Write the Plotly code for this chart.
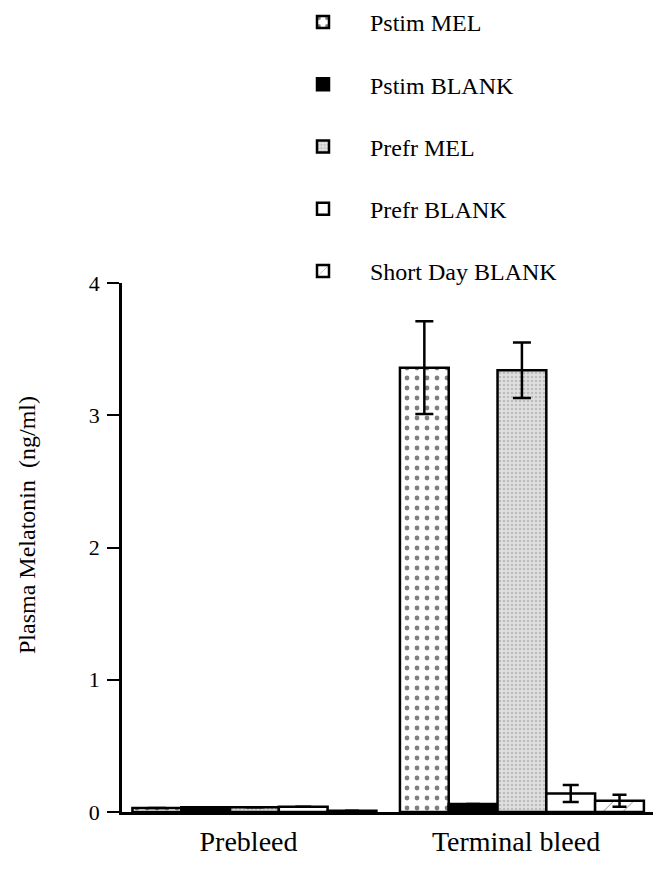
import plotly.graph_objects as go

categories = ["Prebleed", "Terminal bleed"]
x_pos = [0, 1]
series_names = ["Pstim MEL", "Pstim BLANK", "Prefr MEL", "Prefr BLANK", "Short Day BLANK"]
pstim_mel = [0.03, 3.36]
pstim_blank = [0.035, 0.06]
prefr_mel = [0.035, 3.34]
prefr_blank = [0.04, 0.14]
short_day_blank = [0.01, 0.085]
pstim_mel_err = [None, 0.35]
pstim_blank_err = [None, None]
prefr_mel_err = [None, 0.21]
prefr_blank_err = [None, 0.065]
short_day_blank_err = [None, 0.045]
y_ticks = [0, 1, 2, 3, 4]
y_title = "Plasma Melatonin  (ng/ml)"

values = [pstim_mel, pstim_blank, prefr_mel, prefr_blank, short_day_blank]
errors = [pstim_mel_err, pstim_blank_err, prefr_mel_err, prefr_blank_err, short_day_blank_err]
styles = [
    dict(color="white", pattern=dict(shape=".", fgcolor="black", bgcolor="white", size=10, solidity=0.18)),
    dict(color="black"),
    dict(color="#cdcdcd", pattern=dict(shape=".", fgcolor="#9a9a9a", bgcolor="#e0e0e0", size=4, solidity=0.35)),
    dict(color="white"),
    dict(color="white", pattern=dict(shape="/", fgcolor="black", bgcolor="white", size=14, solidity=0.06)),
]
cap_widths = [9, 7, 9, 8, 7]

W, H = 661, 878
ML, MR, MT, MB = 122, 8, 0, 66
PW, PH = W - ML - MR, H - MT - MB
AX_TOP = 283  # pixel row of the y-axis top
FONT = "Liberation Serif"

fig = go.Figure()
for i, name in enumerate(series_names):
    fig.add_trace(go.Bar(
        x=x_pos, y=values[i], name=name, legendgroup=name,
        marker=dict(line=dict(color="black", width=2.5), **styles[i]),
        error_y=dict(type="data", array=errors[i], visible=True, color="black",
                     thickness=2.5, width=cap_widths[i]),
    ))

fig.update_layout(
    width=W, height=H,
    paper_bgcolor="white", plot_bgcolor="white",
    margin=dict(l=ML, r=MR, t=MT, b=MB),
    barmode="group", bargap=0.088, bargroupgap=0,
    font=dict(family=FONT, color="black", size=22),
    legend=dict(x=(276 - ML) / PW, y=1, xanchor="left", yanchor="top",
                font=dict(family=FONT, size=24), tracegroupgap=28,
                itemwidth=84, bgcolor="rgba(0,0,0,0)", traceorder="grouped"),
    showlegend=True,
    annotations=[dict(text=y_title, xref="paper", yref="paper",
                      x=(27 - ML) / PW, y=(H - MB - 525) / PH,
                      xanchor="center", yanchor="middle",
                      textangle=-90, showarrow=False,
                      font=dict(family=FONT, size=24, color="black"))],
)
fig.update_xaxes(
    tickmode="array", tickvals=[p - 0.022 for p in x_pos], ticktext=categories,
    range=[-0.495, 1.49], showline=True, linecolor="black", linewidth=2.5,
    ticks="outside", ticklen=3, tickcolor="rgba(0,0,0,0)", automargin=False,
    tickfont=dict(family=FONT, size=28), showgrid=False, zeroline=False,
)
fig.update_yaxes(
    domain=[0, (H - MB - AX_TOP) / PH],
    range=[0, 4], tickvals=y_ticks, showline=True, linecolor="black", linewidth=2.5,
    ticks="outside", ticklen=12, tickwidth=2, tickcolor="black", automargin=False,
    ticklabelstandoff=3,
    tickfont=dict(family=FONT, size=22), showgrid=False, zeroline=False,
)
fig.write_html("out.html", config={"displayModeBar": False},
               post_script="document.body.style.margin='0';")
